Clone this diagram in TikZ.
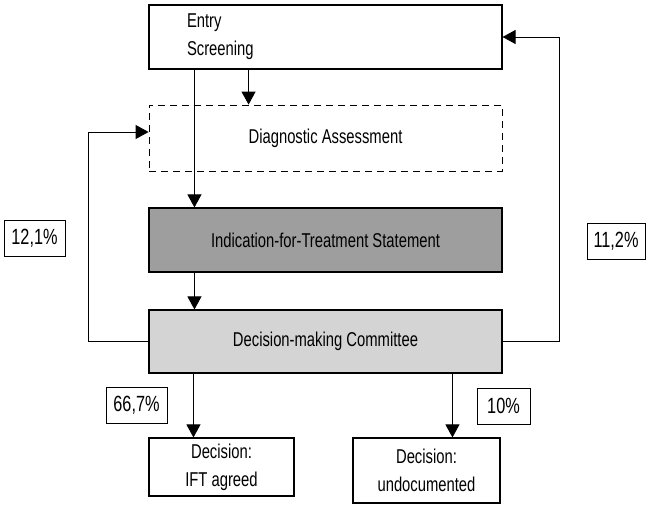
\documentclass[tikz,border=0pt]{standalone}
\usepackage{fontspec}
\setmainfont{Liberation Sans}[FakeStretch=0.74]
\usetikzlibrary{arrows.meta}

\begin{document}
\begin{tikzpicture}[x=1pt,y=-1pt,
		box/.style={draw,line width=1.1pt,minimum width=353pt,minimum height=64pt,align=center,
			font=\fontsize{20}{28}\selectfont},
		pct/.style={draw,line width=0.9pt,minimum height=36pt,inner sep=0pt,
			font=\fontsize{22}{26}\selectfont},
		arr/.style={line width=0.9pt,-{Triangle[width=14pt,length=13pt]}}]
	\useasboundingbox (0,0) rectangle (647,505);
	% main column
	\node[box,align=left,text width=277pt,inner xsep=38pt] (entry) at (325.5,37) {Entry\\Screening};
	\node[box,line width=0.8pt,dash pattern=on 7pt off 5pt,minimum height=66pt] (diag) at (325.5,138) {Diagnostic Assessment};
	\node[box,fill=black!38] (ift) at (325.5,240) {Indication-for-Treatment Statement};
	\node[box,fill=black!17,minimum height=63pt] (committee) at (325.5,341.5) {Decision-making Committee};
	\node[box,minimum width=145pt,minimum height=58pt] (agreed) at (221.5,467) {Decision:\\IFT agreed};
	\node[box,minimum width=147pt,minimum height=65pt] (undoc) at (426.5,470.5) {Decision:\\undocumented};
	% percentages
	\node[pct,minimum width=61pt] (p121) at (34.5,238) {12,1\%};
	\node[pct,minimum width=58pt] (p112) at (616,241.5) {11,2\%};
	\node[pct,minimum width=61pt] (p667) at (136.5,405) {66,7\%};
	\node[pct,minimum width=53pt] (p10) at (503.5,406) {10\%};
	% connectors
	\draw[arr] ([xshift=100pt]entry.south west) -- ([xshift=100pt]diag.north west);
	\draw[arr] ([xshift=46pt]entry.south west) -- ([xshift=46pt]ift.north west);
	\draw[arr] ([xshift=46pt]ift.south west) -- ([xshift=46pt]committee.north west);
	\draw[arr] (committee.west) -- ++(-60,0) |- ([yshift=6pt]diag.west);
	\draw[arr] (committee.east) -- ++(57,0) |- (entry.east);
	\coordinate (left) at ([xshift=45pt]committee.south west);
	\coordinate (right) at ([xshift=304pt]committee.south west);
	\draw[arr] (left) -- (left |- agreed.north);
	\draw[arr] (right) -- (right |- undoc.north);
\end{tikzpicture}
\end{document}
